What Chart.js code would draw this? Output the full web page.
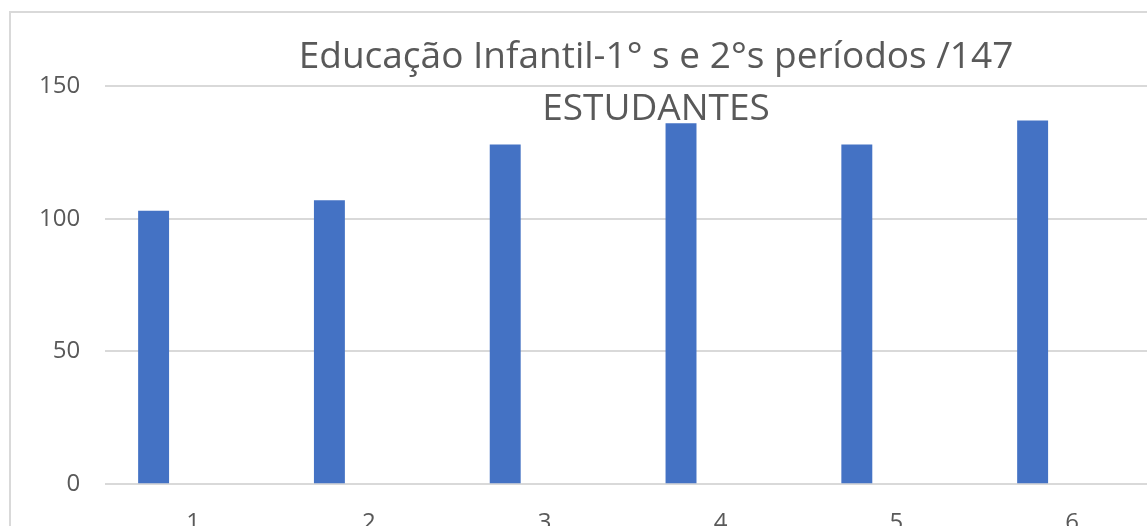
<!DOCTYPE html>
<html>
<head>
<meta charset="utf-8">
<script src="https://cdn.jsdelivr.net/npm/chart.js@4"></script>
<style>
  html, body { margin: 0; padding: 0; background: #fff; overflow: hidden; width: 1147px; height: 526px; }
  #frame { position: absolute; left: 9px; top: 11px; width: 1300px; height: 600px; border-left: 2px solid #d9d9d9; border-top: 2px solid #d9d9d9; }
  #c { position: absolute; left: 0; top: 0; }
</style>
</head>
<body>
<div id="frame"><canvas id="c" width="1292" height="560"></canvas></div>
<script>
const categories = ['1', '2', '3', '4', '5', '6'];
const seriesA = [103, 107, 128, 136, 128, 137];
const seriesB = [null, null, null, null, null, null];
const titleLines = ['Educação Infantil-1° s e 2°s períodos /147', 'ESTUDANTES'];
const yTicks = [0, 50, 100, 150];

const FONT = '"Open Sans", "Noto Sans", sans-serif';
const GREY = '#595959';

const titlePlugin = {
  id: 'excelTitle',
  afterDraw(chart) {
    const ctx = chart.ctx;
    ctx.save();
    ctx.fillStyle = GREY;
    ctx.font = '37px ' + FONT;
    ctx.textAlign = 'center';
    ctx.textBaseline = 'alphabetic';
    const cx = 645;
    ctx.fillText(titleLines[0], cx, 55);
    ctx.fillText(titleLines[1], cx, 107);
    ctx.restore();
  }
};

new Chart(document.getElementById('c'), {
  type: 'bar',
  data: {
    labels: categories,
    datasets: [
      { label: 'Série1', data: seriesA, backgroundColor: '#4472C4', categoryPercentage: 0.898, barPercentage: 0.392 },
      { label: 'Série2', data: seriesB, backgroundColor: '#ED7D31', categoryPercentage: 0.898, barPercentage: 0.392 }
    ]
  },
  options: {
    responsive: false,
    animation: false,
    layout: { padding: { left: 3, top: 73, right: 143, bottom: 10 } },
    plugins: { legend: { display: false }, title: { display: false }, tooltip: { enabled: false } },
    scales: {
      x: {
        grid: { display: false, drawTicks: false },
        border: { display: false },
        ticks: { color: GREY, font: { family: FONT, size: 24 }, padding: 25 }
      },
      y: {
        min: 0, max: 150,
        afterBuildTicks(scale) { scale.ticks = yTicks.map(v => ({ value: v })); },
        grid: { color: '#d9d9d9', lineWidth: 2, drawTicks: false },
        border: { display: false },
        ticks: { color: GREY, font: { family: FONT, size: 24 }, padding: 25 }
      }
    }
  },
  plugins: [titlePlugin]
});
</script>
</body>
</html>
